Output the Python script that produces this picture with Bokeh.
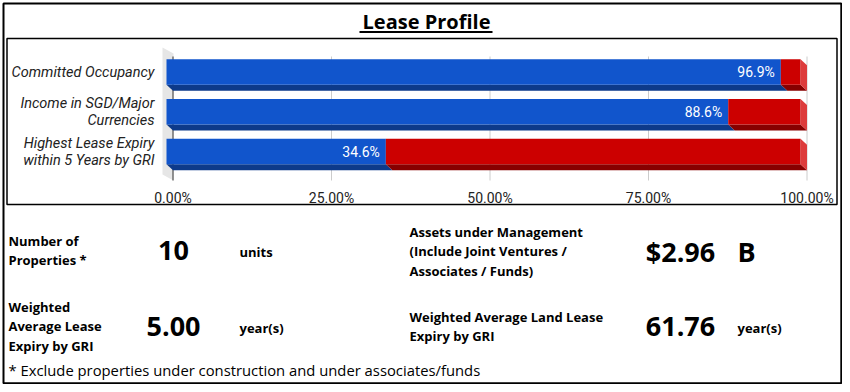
from bokeh.plotting import figure
from bokeh.models import Range1d
from bokeh.core.properties import value
from bokeh.embed import file_html
from bokeh.resources import INLINE

# ---------------- data ----------------
title_text = "Lease Profile"
categories = ["Committed Occupancy",
              "Income in SGD/Major\nCurrencies",
              "Highest Lease Expiry\nwithin 5 Years by GRI"]
primary_pct = [96.9, 88.6, 34.6]          # blue part; red part = 100 - value
x_ticks = [0, 25, 50, 75, 100]
x_tick_labels = ["0.00%", "25.00%", "50.00%", "75.00%", "100.00%"]

stat_labels_left = ["Number of\nProperties *", "Weighted\nAverage Lease\nExpiry by GRI"]
stat_values_left = ["10", "5.00"]
stat_units_left = ["units", "year(s)"]
stat_labels_right = ["Assets under Management\n(Include Joint Ventures /\nAssociates / Funds)",
                     "Weighted Average Land Lease\nExpiry by GRI"]
stat_values_right = ["$2.96", "61.76"]
stat_units_right = ["B", "year(s)"]
footnote = "* Exclude properties under construction and under associates/funds"

# ---------------- layout (pixel units) ----------------
W, H = 842, 384
X_LO, X_HI = 0.0, 842.0
Y_TOP, Y_BOT = 0.0, 384.0

PCT0_PX, PCT100_PX = 166.0, 800.0
PX_PER_PCT = (PCT100_PX - PCT0_PX) / 100.0
ROW0_PX, ROW_STEP = 71.5, 39.75
DX = 6.5 / PX_PER_PCT      # 3D depth in pct units
DY = 6.0 / ROW_STEP        # 3D depth in row units
BAR_H = 25.5 / ROW_STEP

BLUE, BLUE_DK = "#1155cc", "#0d3a8a"
RED, RED_DK, RED_SIDE = "#cc0000", "#870000", "#dd3b3b"
TXT = "#222222"

p = figure(width=W, height=H, x_range=Range1d(X_LO, X_HI), y_range=Range1d(Y_BOT, Y_TOP),
           output_backend="svg", toolbar_location=None, min_border=0,
           x_axis_location=None, y_axis_location=None)
p.grid.visible = False
p.outline_line_color = None
p.background_fill_color = "white"
p.border_fill_color = "white"

p.extra_x_ranges = {"pct": Range1d((X_LO - PCT0_PX) / PX_PER_PCT, (X_HI - PCT0_PX) / PX_PER_PCT)}
p.extra_y_ranges = {"rows": Range1d((Y_BOT - ROW0_PX) / ROW_STEP, (Y_TOP - ROW0_PX) / ROW_STEP)}

# outer border and chart box
p.quad(left=[3.0], right=[840.8], top=[3.0], bottom=[382.8], fill_color=None,
       line_color="black", line_width=2)
p.quad(left=[6.5], right=[836.5], top=[38.0], bottom=[204.0], fill_color=None,
       line_color="black", line_width=1.5)

# title
p.text(x=[426], y=[21], text=[title_text], text_align="center", text_baseline="middle",
       text_font=value("Open Sans"), text_font_style="bold", text_font_size="20px",
       text_color="black")
p.segment(x0=[359], y0=[31.5], x1=[492], y1=[31.5], line_color="black", line_width=2)

# left 3D wall
p.patch(x=[162, 173, 173, 162], y=[47, 53, 180, 174], fill_color="#e6e6e6", line_color=None)

# gridlines (on the back plane)
grid_x = [t + DX for t in x_ticks]
grid_col = ["#333333" if t == 0 else "#cccccc" for t in x_ticks]
p.segment(x0=grid_x, y0=[56] * len(x_ticks), x1=grid_x, y1=[180] * len(x_ticks),
          x_range_name="pct", line_color=grid_col, line_width=1)

# x tick labels
p.text(x=grid_x, y=[197] * len(x_ticks), text=x_tick_labels, x_range_name="pct",
       text_align="center", text_baseline="middle", text_font=value("Roboto"),
       text_font_size="14px", text_color=TXT)

# bars with 3D effect
rows = list(range(len(categories)))
segs = []
for i, v in enumerate(primary_pct):
    segs.append((i, 0.0, v, BLUE, BLUE_DK))
    segs.append((i, v, 100.0, RED, RED_DK))

# bottom faces
bxs, bys, bcol = [], [], []
for i, a, b, c, cd in segs:
    y0 = i + BAR_H / 2
    bxs.append([a, b, b + DX, a + DX])
    bys.append([y0, y0, y0 + DY, y0 + DY])
    bcol.append(cd)
p.patches(xs=bxs, ys=bys, x_range_name="pct", y_range_name="rows",
          fill_color=bcol, line_color=None)
# right side faces
rxs, rys = [], []
for i in rows:
    rxs.append([100.0, 100.0 + DX, 100.0 + DX, 100.0])
    rys.append([i - BAR_H / 2, i - BAR_H / 2 + DY, i + BAR_H / 2 + DY, i + BAR_H / 2])
p.patches(xs=rxs, ys=rys, x_range_name="pct", y_range_name="rows",
          fill_color=RED_SIDE, line_color=None)
# front faces
p.quad(left=[s[1] for s in segs], right=[s[2] for s in segs],
       top=[s[0] - BAR_H / 2 for s in segs], bottom=[s[0] + BAR_H / 2 for s in segs],
       x_range_name="pct", y_range_name="rows",
       fill_color=[s[3] for s in segs], line_color=None)

# value labels
p.text(x=primary_pct, y=rows, text=[f"{v:.1f}%" for v in primary_pct],
       x_range_name="pct", y_range_name="rows", x_offset=-6,
       text_align="right", text_baseline="middle", text_font=value("Roboto"),
       text_font_size="14px", text_color="white")

# category labels
p.text(x=[154] * len(categories), y=rows, text=categories, y_range_name="rows",
       text_align="right", text_baseline="middle", text_font=value("Roboto"),
       text_font_style="italic", text_font_size="14.5px", text_line_height=1.0,
       text_color=TXT)

# stats block
LBL_Y = [250, 326]
p.text(x=[8, 8], y=LBL_Y, text=stat_labels_left, text_align="left", text_baseline="middle",
       text_font=value("Open Sans"), text_font_style="bold", text_font_size="13px",
       text_line_height=1.08, text_color="black")
p.text(x=[173, 173], y=LBL_Y, text=stat_values_left, text_align="center", text_baseline="middle",
       text_font=value("Open Sans"), text_font_style="bold", text_font_size="27px",
       text_color="black")
p.text(x=[239, 239], y=[251, 327], text=stat_units_left, text_align="left", text_baseline="middle",
       text_font=value("Open Sans"), text_font_style="bold", text_font_size="13px",
       text_color="black")

p.text(x=[409, 409], y=[251, 326], text=stat_labels_right, text_align="left",
       text_baseline="middle", text_font=value("Open Sans"), text_font_style="bold",
       text_font_size="13px", text_line_height=1.08, text_color="black")
p.text(x=[680, 680], y=[251, 325.5], text=stat_values_right, text_align="center",
       text_baseline="middle", text_font=value("Open Sans"), text_font_style="bold",
       text_font_size="27px", text_color="black")
p.text(x=[737], y=[251], text=[stat_units_right[0]], text_align="left",
       text_baseline="middle", text_font=value("Open Sans"), text_font_style="bold",
       text_font_size="27px", text_color="black")
p.text(x=[737], y=[327], text=[stat_units_right[1]], text_align="left",
       text_baseline="middle", text_font=value("Open Sans"), text_font_style="bold",
       text_font_size="13px", text_color="black")

# footnote
p.text(x=[8], y=[369.5], text=[footnote], text_align="left", text_baseline="middle",
       text_font=value("Open Sans"), text_font_size="14.8px", text_color="black")

open("out.html", "w").write(file_html(p, INLINE))
